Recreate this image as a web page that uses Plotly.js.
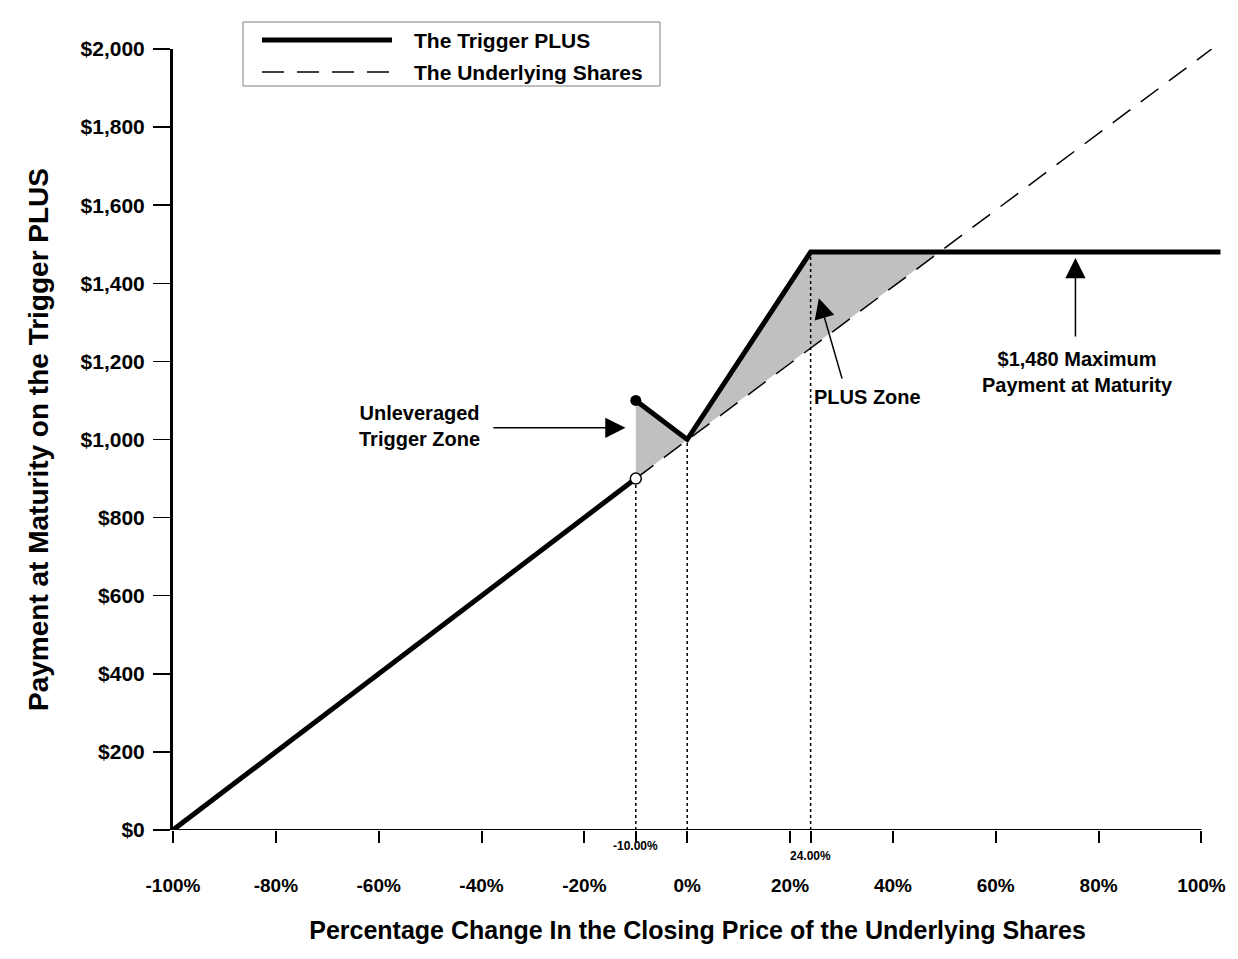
<!DOCTYPE html>
<html>
<head>
<meta charset="utf-8">
<script src="https://cdn.plot.ly/plotly-3.0.1.min.js"></script>
<style>body{margin:0;background:#fff;}</style>
</head>
<body>
<div id="chart" style="width:1238px;height:959px;"></div>
<script>
// values: x in %, y in $
const triggerLowX = [-100, -10];
const triggerLowY = [0, 900];
const triggerHighX = [-10, 0, 24, 103.7];
const triggerHighY = [1100, 1000, 1480, 1480];
const sharesX = [-10, 102];
const sharesY = [900, 2000];
const triggerZoneX = [-10, -10, 0];
const triggerZoneY = [900, 1100, 1000];
const plusZoneX = [0, 24, 49];
const plusZoneY = [1000, 1480, 1480];
const guideX = [-10, 0, 24];
const guideY = [900, 1000, 1480];
const tickVals = [-100, -80, -60, -40, -20, -10, 0, 20, 24, 40, 60, 80, 100];
const tickText = ['-100%', '-80%', '-60%', '-40%', '-20%', '', '0%', '20%', '', '40%', '60%', '80%', '100%'];
const smallLabelX = [-10, 24];
const smallLabelText = ['-10.00%', '24.00%'];
const legendNames = ['The Trigger PLUS', 'The Underlying Shares'];

const FONT = 'Liberation Sans, Arial, sans-serif';
const W = 1238, H = 959;
const M = { l: 173, r: 16, t: 49, b: 129 };
const plotW = W - M.l - M.r;
const plotH = H - M.t - M.b;
// pixel -> paper helpers for the hand drawn legend box
const px = x => (x - M.l) / plotW;
const py = y => (H - M.b - y) / plotH;

const data = [];

// shaded zones
[[triggerZoneX, triggerZoneY], [plusZoneX, plusZoneY]].forEach(([xs, ys]) => {
    data.push({
        x: xs, y: ys, type: 'scatter', mode: 'lines', fill: 'toself',
        fillcolor: '#c0c0c0', line: { width: 0, color: 'rgba(0,0,0,0)' },
        hoverinfo: 'skip',
    });
});

// dotted guides down to the axis
guideX.forEach((gx, i) => {
    data.push({
        x: [gx, gx], y: [0, guideY[i]], type: 'scatter', mode: 'lines',
        line: { color: '#000', width: 1.5, dash: 'dot' }, hoverinfo: 'skip',
    });
});

// underlying shares
data.push({
    x: sharesX, y: sharesY, type: 'scatter', mode: 'lines', name: legendNames[1],
    line: { color: '#000', width: 1.5, dash: '22px,13px' },
});

// trigger plus
data.push({
    x: triggerLowX, y: triggerLowY, type: 'scatter', mode: 'lines', name: legendNames[0],
    line: { color: '#000', width: 5 },
});
data.push({
    x: triggerHighX, y: triggerHighY, type: 'scatter', mode: 'lines',
    line: { color: '#000', width: 5 },
});
// jump markers: open at the bottom, closed at the top
data.push({
    x: [triggerLowX[1]], y: [triggerLowY[1]], type: 'scatter', mode: 'markers',
    marker: { size: 11, color: '#fff', line: { color: '#000', width: 1.5 } },
    cliponaxis: false,
});
data.push({
    x: [triggerHighX[0]], y: [triggerHighY[0]], type: 'scatter', mode: 'markers',
    marker: { size: 11, color: '#000' },
    cliponaxis: false,
});

const annFont = { family: FONT, size: 20, color: '#000', weight: 'bold' };
const annotations = [];

smallLabelX.forEach((sx, i) => {
    annotations.push({
        x: sx, y: 0, xref: 'x', yref: 'y', text: smallLabelText[i], showarrow: false,
        yanchor: 'middle', yshift: i === 0 ? -16 : -26,
        font: { family: FONT, size: 12, color: '#000', weight: 'bold' },
    });
});

const arrow = (x, y, ax, ay) => ({
    x, y, ax, ay, xref: 'x', yref: 'y', axref: 'x', ayref: 'y', text: '',
    showarrow: true, arrowhead: 2, arrowsize: 2.7, arrowwidth: 1.5, arrowcolor: '#000',
    standoff: 0, startstandoff: 0,
});
annotations.push(arrow(-12, 1030, -38, 1030));
annotations.push(arrow(25.6, 1362, 30.2, 1152));
annotations.push(arrow(75.5, 1465, 75.5, 1260));

annotations.push({
    x: -52, y: 1034, xref: 'x', yref: 'y', showarrow: false, align: 'center',
    text: 'Unleveraged<br>Trigger Zone', font: annFont,
});
annotations.push({
    x: 35.1, y: 1109, xref: 'x', yref: 'y', showarrow: false,
    text: 'PLUS Zone', font: annFont,
});
annotations.push({
    x: 75.9, y: 1173, xref: 'x', yref: 'y', showarrow: false, align: 'center',
    text: '$1,480 Maximum<br>Payment at Maturity', font: annFont,
});

// legend
const legFont = { family: FONT, size: 21, color: '#000', weight: 'bold' };
annotations.push({
    x: px(412), y: py(40), xref: 'paper', yref: 'paper', xanchor: 'left', yanchor: 'middle',
    showarrow: false, text: legendNames[0], font: legFont,
});
annotations.push({
    x: px(412), y: py(72), xref: 'paper', yref: 'paper', xanchor: 'left', yanchor: 'middle',
    showarrow: false, text: legendNames[1], font: legFont,
});

const shapes = [
    // x axis line only spans -100% .. 100%
    {
        type: 'line', xref: 'x', yref: 'y', x0: -100, x1: 100, y0: 0, y1: 0,
        line: { color: '#000', width: 2 },
    },
    {
        type: 'rect', xref: 'paper', yref: 'paper',
        x0: px(243), x1: px(660), y0: py(86), y1: py(22),
        line: { color: '#808080', width: 1 }, fillcolor: '#fff',
    },
    {
        type: 'line', xref: 'paper', yref: 'paper',
        x0: px(262), x1: px(392), y0: py(40), y1: py(40),
        line: { color: '#000', width: 5 },
    },
    {
        type: 'line', xref: 'paper', yref: 'paper',
        x0: px(262), x1: px(392), y0: py(72), y1: py(72),
        line: { color: '#000', width: 1.5, dash: '22px,13px' },
    },
];

const layout = {
    width: W,
    height: H,
    margin: M,
    showlegend: false,
    paper_bgcolor: '#fff',
    plot_bgcolor: '#fff',
    font: { family: FONT, color: '#000' },
    xaxis: {
        range: [-100, 104],
        tickmode: 'array',
        tickvals: tickVals,
        ticktext: tickText,
        ticks: 'outside',
        ticklen: 12,
        tickwidth: 2,
        tickcolor: '#000',
        ticklabelstandoff: 26,
        tickfont: { family: FONT, size: 19, color: '#000', weight: 'bold' },
        showgrid: false,
        zeroline: false,
        showline: false,
        title: {
            text: 'Percentage Change In the Closing Price of the Underlying Shares',
            font: { family: FONT, size: 25, color: '#000', weight: 'bold' },
            standoff: 26,
        },
    },
    yaxis: {
        range: [0, 2000],
        dtick: 200,
        tickprefix: '$',
        tickformat: ',d',
        ticks: 'outside',
        ticklen: 17,
        tickwidth: 1.5,
        tickcolor: '#000',
        ticklabelstandoff: 4,
        tickfont: { family: FONT, size: 21, color: '#000', weight: 'bold' },
        showgrid: false,
        zeroline: false,
        showline: true,
        linewidth: 3,
        linecolor: '#000',
        title: {
            text: 'Payment at Maturity on the Trigger PLUS',
            font: { family: FONT, size: 28, color: '#000', weight: 'bold' },
            standoff: 24,
        },
    },
    shapes,
    annotations,
};

Plotly.newPlot('chart', data, layout, { displayModeBar: false, staticPlot: true });
</script>
</body>
</html>
